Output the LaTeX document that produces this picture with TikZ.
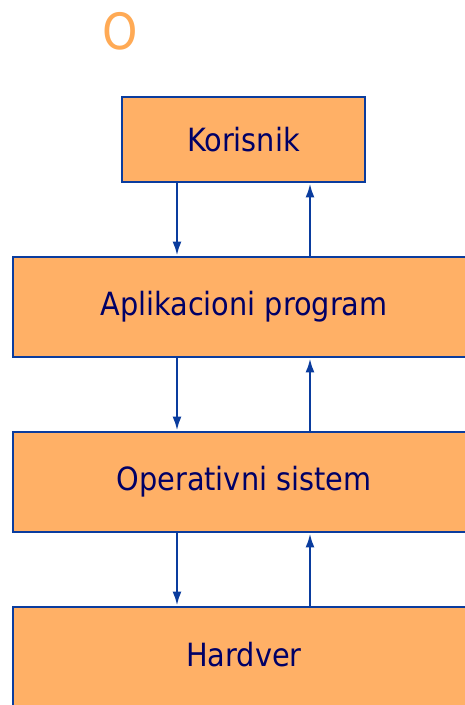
\documentclass[tikz,border=0pt]{standalone}
\usepackage{fontspec}
\setmainfont{DejaVu Sans Condensed}
\usetikzlibrary{arrows.meta}
\definecolor{boxfill}{HTML}{FFB066}
\definecolor{boxline}{HTML}{0A3C9E}
\definecolor{txt}{HTML}{000066}
\definecolor{ttl}{HTML}{FFAA55}
\tikzset{
  layerbox/.style={draw=boxline, line width=2.9pt, fill=boxfill, rectangle, inner sep=0pt,
    font=\fontsize{32}{37}\selectfont, text=txt},
  flow/.style={draw=boxline, line width=2.3pt, -{Latex[length=14pt,width=9pt]}}
}
\begin{document}
\begin{tikzpicture}[x=1pt,y=-1pt]
\useasboundingbox (0,0) rectangle (465,705);
\node[text=ttl, font=\fontsize{50}{56}\selectfont] (title) at (120,31) {O};
\node[layerbox, minimum width=243pt, minimum height=85pt] (kor) at (243.5,139.5) {Korisnik};
\node[layerbox, minimum width=462pt, minimum height=100pt] (app) at (244,307) {Aplikacioni program};
\node[layerbox, minimum width=462pt, minimum height=100pt] (os) at (244,482) {Operativni sistem};
\node[layerbox, minimum width=462pt, minimum height=116pt] (hw) at (244,665) {};
\node[font=\fontsize{32}{37}\selectfont, text=txt] (hwt) at (244,655) {Hardver};
\foreach \a/\b in {kor/app, app/os, os/hw}{
  \draw[flow] (\a.south -| 177,0) -- (\b.north -| 177,0);
  \draw[flow] (\b.north -| 310,0) -- (\a.south -| 310,0);
}
\end{tikzpicture}
\end{document}
